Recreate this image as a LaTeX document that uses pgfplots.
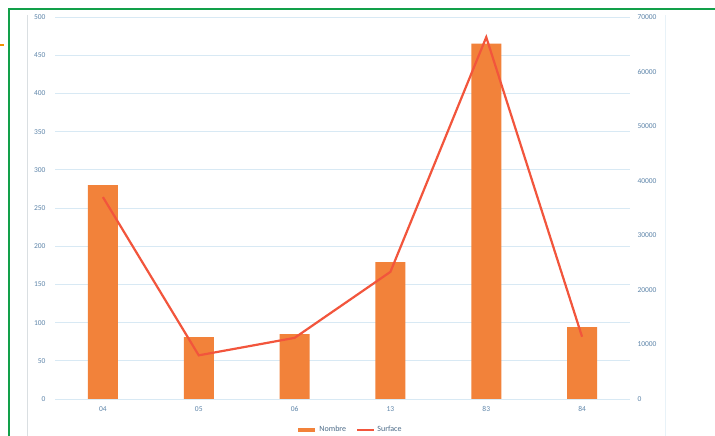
\documentclass[border=0pt]{standalone}
\usepackage{fontspec}
\setmainfont{Carlito}
\usepackage{pgfplots}
\pgfplotsset{compat=1.18}
\definecolor{barorange}{HTML}{F2823A}
\definecolor{lineorange}{HTML}{F2553C}
\definecolor{gridblue}{HTML}{D8E9F4}
\definecolor{ticktext}{HTML}{5F86AA}
\definecolor{framegreen}{HTML}{12A04A}
\definecolor{markorange}{HTML}{F39200}

\pgfplotsset{
  chartaxis/.style={
    scale only axis, width=575pt, height=382pt,
    at={(55pt,37pt)}, anchor=south west,
    xmin=-0.5, xmax=5.5,
    axis line style={draw=none},
    major tick length=0pt,
    tick label style={font=\fontsize{7.5}{8}\selectfont, text=ticktext},
    /pgf/number format/assume math mode=true,
    /pgf/number format/1000 sep={},
    scaled y ticks=false,
  }
}

\begin{document}
\begin{tikzpicture}[x=1pt,y=1pt]
\useasboundingbox (0,0) rectangle (715,436);
\fill[white] (0,0) rectangle (715,436);
% frame of the scanned page
\draw[gridblue!60!gray!50, line width=0.6pt] (27,0) -- (27,421);
\draw[gridblue!60, line width=0.6pt] (665,0) -- (665,421);
\draw[framegreen, line width=2pt] (8.5,-5) -- (8.5,427) -- (720,427);
\draw[markorange, line width=1.5pt] (0,391) -- (4,391);

\begin{axis}[chartaxis,
  ybar, bar width=30pt,
  ymin=0, ymax=500, ytick distance=50,
  ymajorgrids, grid style={gridblue, line width=0.6pt},
  xtick={0,...,5}, xticklabels={04,05,06,13,83,84},
  xticklabel style={yshift=-4pt},
  yticklabel style={xshift=-6pt},
]
\addplot[draw=none, fill=barorange] coordinates {
  (0,280) (1,81) (2,85) (3,179) (4,465) (5,94)};
\end{axis}

\begin{axis}[chartaxis,
  ymin=0, ymax=70000, ytick distance=10000,
  axis y line*=right, hide x axis,
  yticklabel style={xshift=4pt},
  legend style={at={(0.513,-0.081)}, anchor=center, draw=none, fill=none,
    font=\fontsize{8}{9}\selectfont, text=ticktext!80!black,
    legend columns=2,
    /tikz/every even column/.append style={column sep=8pt}},
]
\addlegendimage{barorange, line width=4pt}
\addlegendentry{Nombre}
\addplot[lineorange, line width=2.2pt, no markers, sharp plot] coordinates {
  (0,37000) (1,8000) (2,11200) (3,23300) (4,66300) (5,11400)};
\addlegendentry{Surface}
\end{axis}
\end{tikzpicture}
\end{document}
